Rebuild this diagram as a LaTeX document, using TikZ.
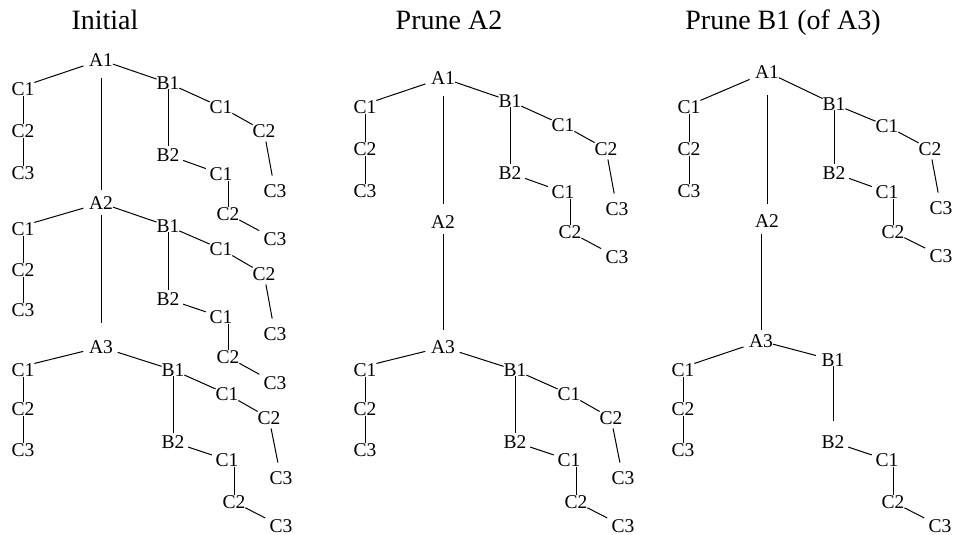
\documentclass[tikz,border=0pt]{standalone}
\usepackage{fontspec}
\setmainfont{Liberation Serif}
\usetikzlibrary{calc}

\tikzset{
  lbl/.style={inner sep=0pt, outer sep=0pt, font=\fontsize{19.5}{20}\selectfont},
  ttl/.style={inner sep=0pt, anchor=base, font=\fontsize{28}{30}\selectfont},
  edge/.style={draw=black, line width=1pt}
}

% standard edges of one A-level subtree (#1 = prefix, #2 = gap on A--B1)
\newcommand{\subedges}[2]{%
  \draw[edge, shorten <=6pt] (#1) -- (#1l1.north east);
  \draw[edge] (#1l1) -- (#1l2);
  \draw[edge] (#1l2) -- (#1l3);
  \draw[edge, shorten <=#2] (#1) -- (#1b1);
  \draw[edge] (#1b1) -- (#1b1c1);
  \draw[edge] (#1b1c1) -- (#1b1c2);
  \draw[edge, shorten <=4pt, shorten >=9pt] (#1b1c2) -- (#1b1c3);
  \draw[edge, shorten >=3pt] (#1b1) -- (#1b2);
  \draw[edge, shorten <=4pt, shorten >=4pt] (#1b2) -- (#1b2c1);
  \draw[edge] (#1b2c1.south -| #1b2c2) -- (#1b2c2);
  \draw[edge, shorten >=5pt] (#1b2c2) -- (#1b2c3);
}

\begin{document}
\begin{tikzpicture}[x=1pt, y=-1pt]
\useasboundingbox (0,0) rectangle (956,535);

% ---------- titles ----------
\node[ttl] (t1) at (105,30) {Initial};
\node[ttl] (t2) at (449,30) {Prune A2};
\node[ttl] (t3) at (783,30) {Prune B1 (of A3)};

% ---------- Initial ----------
\node[lbl] (p1a1) at (101,60) {A1};
\node[lbl] (p1a1l1) at (23,89) {C1};
\node[lbl] (p1a1l2) at (23,131) {C2};
\node[lbl] (p1a1l3) at (23,173) {C3};
\node[lbl] (p1a1b1) at (168,83) {B1};
\node[lbl] (p1a1b1c1) at (221,107) {C1};
\node[lbl] (p1a1b1c2) at (264,131) {C2};
\node[lbl] (p1a1b1c3) at (275,191) {C3};
\node[lbl] (p1a1b2) at (168,155) {B2};
\node[lbl] (p1a1b2c1) at (221,174) {C1};
\node[lbl] (p1a1b2c2) at (228,214) {C2};
\node[lbl] (p1a1b2c3) at (275,239) {C3};

\node[lbl] (p1a2) at (101,203) {A2};
\node[lbl] (p1a2l1) at (23,229) {C1};
\node[lbl] (p1a2l2) at (23,270) {C2};
\node[lbl] (p1a2l3) at (23,310) {C3};
\node[lbl] (p1a2b1) at (168,226) {B1};
\node[lbl] (p1a2b1c1) at (221,249) {C1};
\node[lbl] (p1a2b1c2) at (264,274) {C2};
\node[lbl] (p1a2b1c3) at (275,334) {C3};
\node[lbl] (p1a2b2) at (168,299) {B2};
\node[lbl] (p1a2b2c1) at (221,317) {C1};
\node[lbl] (p1a2b2c2) at (228,357) {C2};
\node[lbl] (p1a2b2c3) at (275,383) {C3};

\node[lbl] (p1a3) at (101,347) {A3};
\node[lbl] (p1a3l1) at (23,370) {C1};
\node[lbl] (p1a3l2) at (23,409) {C2};
\node[lbl] (p1a3l3) at (23,450) {C3};
\node[lbl] (p1a3b1) at (173,370) {B1};
\node[lbl] (p1a3b1c1) at (227,394) {C1};
\node[lbl] (p1a3b1c2) at (269,418) {C2};
\node[lbl] (p1a3b1c3) at (281,478) {C3};
\node[lbl] (p1a3b2) at (173,442) {B2};
\node[lbl] (p1a3b2c1) at (227,460) {C1};
\node[lbl] (p1a3b2c2) at (234,502) {C2};
\node[lbl] (p1a3b2c3) at (281,526) {C3};

\subedges{p1a1}{0pt}
\subedges{p1a2}{0pt}
\subedges{p1a3}{5pt}
\draw[edge, shorten <=12pt, shorten >=7pt] (p1a1) -- (p1a2);
\draw[edge, shorten <=6pt, shorten >=17pt] (p1a2) -- (p1a3);

% ---------- Prune A2 ----------
\node[lbl] (p2a1) at (443,78) {A1};
\node[lbl] (p2a1l1) at (365,107) {C1};
\node[lbl] (p2a1l2) at (365,149) {C2};
\node[lbl] (p2a1l3) at (365,191) {C3};
\node[lbl] (p2a1b1) at (510,101) {B1};
\node[lbl] (p2a1b1c1) at (563,125) {C1};
\node[lbl] (p2a1b1c2) at (606,149) {C2};
\node[lbl] (p2a1b1c3) at (617,209) {C3};
\node[lbl] (p2a1b2) at (510,173) {B2};
\node[lbl] (p2a1b2c1) at (563,192) {C1};
\node[lbl] (p2a1b2c2) at (570,232) {C2};
\node[lbl] (p2a1b2c3) at (617,257) {C3};

\node[lbl] (p2a2) at (443,222) {A2};

\node[lbl] (p2a3) at (443,347) {A3};
\node[lbl] (p2a3l1) at (365,370) {C1};
\node[lbl] (p2a3l2) at (365,409) {C2};
\node[lbl] (p2a3l3) at (365,450) {C3};
\node[lbl] (p2a3b1) at (515,370) {B1};
\node[lbl] (p2a3b1c1) at (569,394) {C1};
\node[lbl] (p2a3b1c2) at (611,418) {C2};
\node[lbl] (p2a3b1c3) at (623,478) {C3};
\node[lbl] (p2a3b2) at (515,442) {B2};
\node[lbl] (p2a3b2c1) at (569,460) {C1};
\node[lbl] (p2a3b2c2) at (576,502) {C2};
\node[lbl] (p2a3b2c3) at (623,526) {C3};

\subedges{p2a1}{0pt}
\subedges{p2a3}{5pt}
\draw[edge, shorten <=12pt, shorten >=12pt] (p2a1) -- (p2a2);
\draw[edge, shorten <=6pt, shorten >=10pt] (p2a2) -- (p2a3);

% ---------- Prune B1 (of A3) ----------
\node[lbl] (p3a1) at (767,72) {A1};
\node[lbl] (p3a1l1) at (689,107) {C1};
\node[lbl] (p3a1l2) at (689,149) {C2};
\node[lbl] (p3a1l3) at (689,191) {C3};
\node[lbl] (p3a1b1) at (834,104) {B1};
\node[lbl] (p3a1b1c1) at (887,126) {C1};
\node[lbl] (p3a1b1c2) at (930,149) {C2};
\node[lbl] (p3a1b1c3) at (941,208) {C3};
\node[lbl] (p3a1b2) at (834,173) {B2};
\node[lbl] (p3a1b2c1) at (887,192) {C1};
\node[lbl] (p3a1b2c2) at (893,232) {C2};
\node[lbl] (p3a1b2c3) at (941,256) {C3};

\node[lbl] (p3a2) at (767,221) {A2};

\node[lbl] (p3a3) at (761,341) {A3};
\node[lbl] (p3a3l1) at (683,370) {C1};
\node[lbl] (p3a3l2) at (683,409) {C2};
\node[lbl] (p3a3l3) at (683,450) {C3};
\node[lbl] (p3a3b1) at (833,360) {B1};
\node[lbl] (p3a3b2) at (833,442) {B2};
\node[lbl] (p3a3b2c1) at (887,460) {C1};
\node[lbl] (p3a3b2c2) at (893,502) {C2};
\node[lbl] (p3a3b2c3) at (940,526) {C3};

\subedges{p3a1}{0pt}
\draw[edge, shorten <=17pt, shorten >=11pt] (p3a1) -- (p3a2);
\draw[edge, shorten <=7pt, shorten >=4pt] (p3a2.south -| p3a3) -- (p3a3);
\draw[edge, shorten <=6pt] (p3a3) -- (p3a3l1.north east);
\draw[edge] (p3a3l1) -- (p3a3l2);
\draw[edge] (p3a3l2) -- (p3a3l3);
\draw[edge, shorten >=6pt] (p3a3) -- (p3a3b1);
\draw[edge, shorten >=15pt] (p3a3b1) -- (p3a3b2);
\draw[edge, shorten <=4pt, shorten >=4pt] (p3a3b2) -- (p3a3b2c1);
\draw[edge] (p3a3b2c1.south -| p3a3b2c2) -- (p3a3b2c2);
\draw[edge, shorten >=5pt] (p3a3b2c2) -- (p3a3b2c3);
\end{tikzpicture}
\end{document}
